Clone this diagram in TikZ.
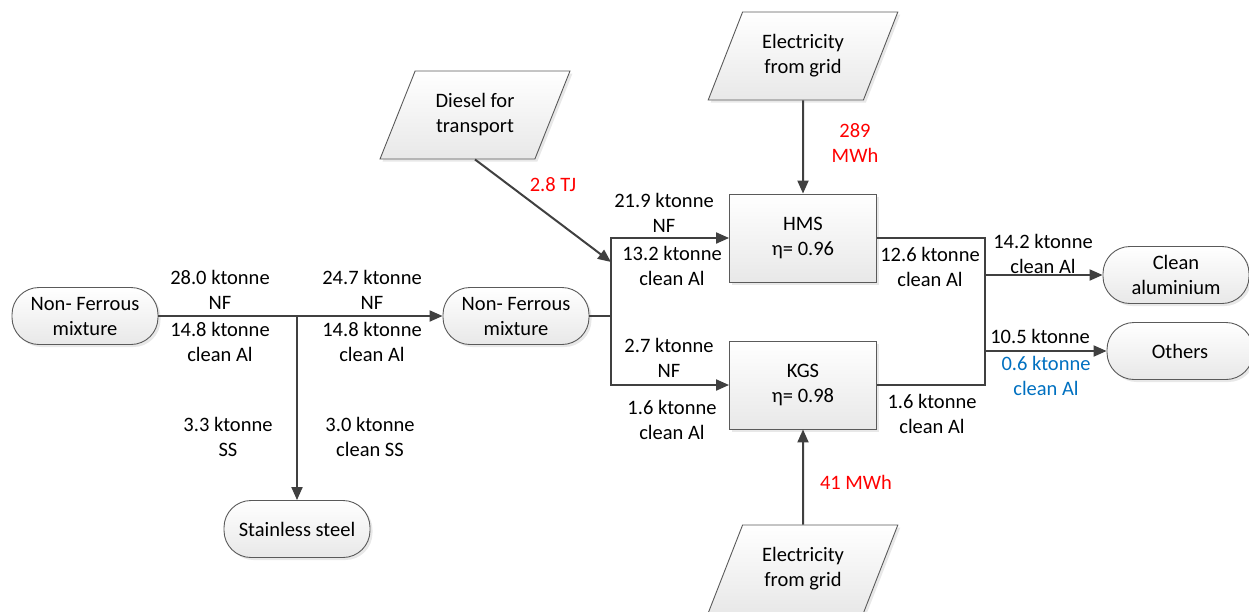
\documentclass[tikz,border=0pt]{standalone}
\usepackage{fontspec}
\setmainfont{Carlito}
\usetikzlibrary{arrows.meta,positioning,shapes.geometric,shadows}
\definecolor{edgegray}{HTML}{404040}
\definecolor{boxline}{HTML}{5A5A5A}
\definecolor{energyred}{HTML}{FF0000}
\definecolor{lossblue}{HTML}{0070C0}

\begin{document}
\begin{tikzpicture}[
  x=1pt, y=-1pt,
  every node/.style={font=\fontsize{20.5}{25}\selectfont},
  boxbase/.style={draw=boxline, line width=0.9pt, top color=white, bottom color=black!9,
    drop shadow={shadow xshift=2.5pt, shadow yshift=-2.5pt, fill=black!18}},
  terminal/.style={boxbase, rounded corners=27pt, minimum width=146pt, minimum height=57pt, align=center, inner sep=2pt},
  process/.style={boxbase, minimum width=147pt, minimum height=88pt, align=center},
  supply/.style={boxbase, trapezium, trapezium left angle=63, trapezium right angle=117,
    trapezium stretches=true, minimum width=190pt, minimum height=88pt, align=center},
  flow/.style={draw=edgegray, line width=2pt, -{Triangle[length=13pt, width=11pt]}},
  pipe/.style={draw=edgegray, line width=2pt},
  qty/.style={align=center, inner sep=0pt}
]
\useasboundingbox (0,0) rectangle (1249,611);

\node[terminal] (nfin) at (85,316) {Non- Ferrous\\mixture};
\node[terminal] (nfmix) at (516,316) {Non- Ferrous\\mixture};
\node[terminal] (steel) at (297,529) {Stainless steel};
\node[supply] (diesel) at (475,115) {Diesel for\\transport};
\node[process] (hms) at (803,238) {HMS\\η= 0.96};
\node[process] (kgs) at (803,385) {KGS\\η= 0.98};
\node[supply] (gridtop) at (803,56) {Electricity\\from grid};
\node[supply] (gridbot) at (803,569) {Electricity\\from grid};
\node[terminal] (cleanal) at (1176,275) {Clean\\aluminium};
\node[terminal] (others) at (1180,351) {Others};

\coordinate (split) at (297,316);
\coordinate (fork) at (611,316);
\coordinate (dieselin) at (611,262);
\coordinate (merge) at (985,316);
\coordinate (toclean) at (985,275);
\coordinate (toothers) at (985,351);

\draw[flow] (nfin) -- (nfmix);
\draw[flow] (split) -- (steel);
\draw[pipe] (nfmix) -- (fork);
\draw[flow] (fork) |- (hms);
\draw[flow] (fork) |- (kgs);
\draw[flow] (diesel.south) -- (dieselin);
\draw[flow] (gridtop) -- (hms);
\draw[flow] (gridbot) -- (kgs);
\draw[pipe] (hms) -| (merge) |- (kgs);
\draw[flow] (toclean) -- (cleanal);
\draw[flow] (toothers) -- (others);

\node[qty] (nfinnf) at (220,290) {28.0 ktonne\\NF};
\node[qty] (nfinal) at (220,342) {14.8 ktonne\\clean Al};
\node[qty] (nfoutnf) at (372,290) {24.7 ktonne\\NF};
\node[qty] (nfoutal) at (372,342) {14.8 ktonne\\clean Al};
\node[qty] (ssall) at (228,437) {3.3 ktonne\\SS};
\node[qty] (ssclean) at (370,437) {3.0 ktonne\\clean SS};
\node[qty, text=energyred] (dieselen) at (553,185) {2.8 TJ};
\node[qty] (hmsnf) at (664,213) {21.9 ktonne\\NF};
\node[qty] (hmsal) at (672,266) {13.2 ktonne\\clean Al};
\node[qty] (kgsnf) at (669,358) {2.7 ktonne\\NF};
\node[qty] (kgsal) at (672,420) {1.6 ktonne\\clean Al};
\node[qty, text=energyred] (hmsen) at (855,143) {289\\MWh};
\node[qty, text=energyred] (kgsen) at (856,482) {41 MWh};
\node[qty] (hmsout) at (930,267) {12.6 ktonne\\clean Al};
\node[qty] (kgsout) at (932,414) {1.6 ktonne\\clean Al};
\node[qty] (cleanout) at (1043,254) {14.2 ktonne\\clean Al};
\node[qty] (othout) at (1040,336) {10.5 ktonne};
\node[qty, text=lossblue] (othal) at (1046,376) {0.6 ktonne\\clean Al};
\end{tikzpicture}
\end{document}
